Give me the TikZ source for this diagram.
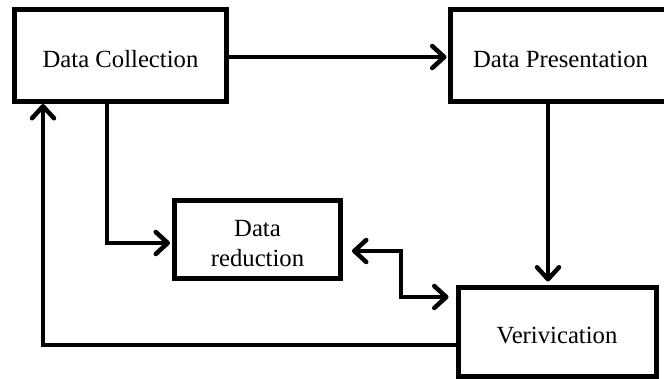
\documentclass[tikz,border=0pt]{standalone}
\usepackage{fontspec}
\setmainfont{Liberation Serif}
\usetikzlibrary{arrows.meta}
\newcommand{\mydown}[1]{\raisebox{-4pt}[\height][\depth]{#1}}
\begin{document}
\begin{tikzpicture}[x=1pt,y=-1pt,
  box/.style={draw=black,line width=5pt,fill=white,inner sep=0pt,align=center,
    font=\fontsize{24.7}{29.6}\selectfont},
  arr/.style={line width=4.5pt,-{Straight Barb[round,length=12pt,width=22pt]}},
  arrboth/.style={line width=4.5pt,{Straight Barb[round,length=12pt,width=22pt]}-{Straight Barb[round,length=12pt,width=22pt]}}]
\clip (0,0) rectangle (664,378);
\node[box,minimum width=212pt,minimum height=92pt] (DC) at (120.5,55.5) {\mydown{Data Collection}};
\node[box,minimum width=221pt,minimum height=92pt] (DP) at (560.5,55) {\mydown{Data Presentation}};
\node[box,minimum width=166pt,minimum height=78pt] (DR) at (257.5,239.5) {\mydown{Data}\\\mydown{reduction}};
\node[box,minimum width=198pt,minimum height=89pt] (V) at (557,331.5) {\mydown{Verivication}};
\draw[arr,shorten >=1pt] ([yshift=-1.5pt]DC.east) -- ([yshift=-2pt]DP.west);
\draw[arr,shorten >=3pt] ([xshift=-12.5pt]DP.south) -- ([xshift=-9pt]V.north);
\draw[arr,shorten >=2pt] ([xshift=-13.5pt]DC.south) |- ([yshift=-3.5pt]DR.west);
\draw[arrboth,shorten <=9pt,shorten >=7pt] ([yshift=-11.5pt]DR.east) -- ++(58pt,0) |- ([yshift=34.5pt]V.west);
\draw[arr] ([yshift=-13.5pt]V.west) -| ([xshift=-77.5pt]DC.south);
\end{tikzpicture}
\end{document}
